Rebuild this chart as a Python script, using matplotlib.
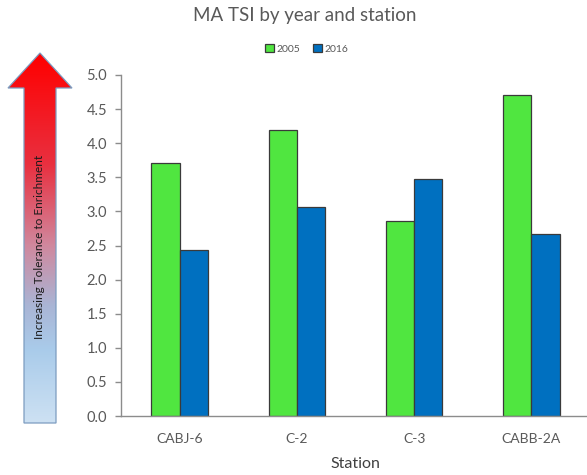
import numpy as np
import matplotlib
matplotlib.use('Agg')
import matplotlib.pyplot as plt
from matplotlib.colors import LinearSegmentedColormap
from matplotlib.patches import Polygon

plt.rcParams['font.family'] = ['Lato', 'DejaVu Sans']

# TSI values per station
stations = ['CABJ-6', 'C-2', 'C-3', 'CABB-2A']
tsi_2005 = [3.71, 4.19, 2.86, 4.71]
tsi_2016 = [2.43, 3.07, 3.48, 2.67]
years = ['2005', '2016']
yticks = [0.0, 0.5, 1.0, 1.5, 2.0, 2.5, 3.0, 3.5, 4.0, 4.5, 5.0]

W, H = 587, 475
fig = plt.figure(figsize=(W / 100, H / 100), dpi=100)

# main bar axes (pixel box: x 121..590, y 75..416)
ax = fig.add_axes([121 / W, 1 - 416 / H, (590 - 121) / W, (416 - 75) / H])
x = np.arange(len(stations))
bw = 0.24
ax.bar(x - bw / 2, tsi_2005, bw, color='#50E640', edgecolor='#3a3a3a', linewidth=0.9, label=years[0])
ax.bar(x + bw / 2, tsi_2016, bw, color='#0070C0', edgecolor='#3a3a3a', linewidth=0.9, label=years[1])

ax.set_xlim(-0.5, 3.5)
ax.set_ylim(0, 5.0)
ax.set_yticks(yticks)
ax.set_yticklabels([f'{v:.1f}' for v in yticks])
ax.set_xticks(x)
ax.set_xticklabels(stations)
for s in ['top', 'right']:
    ax.spines[s].set_visible(False)
for s in ['left', 'bottom']:
    ax.spines[s].set_color('#8c8c8c')
    ax.spines[s].set_linewidth(1.0)
ax.tick_params(axis='y', colors='#8c8c8c', labelcolor='#595959', labelsize=10.5, length=4, width=1, pad=6)
ax.tick_params(axis='x', length=0, labelcolor='#595959', labelsize=10, pad=12)
ax.set_xlabel('Station', fontsize=11.5, color='#404040', labelpad=9)

fig.text(305 / W, 1 - 16 / H, 'MA TSI by year and station', ha='center', va='center',
         fontsize=13.5, color='#595959')
leg = fig.legend(loc='center', bbox_to_anchor=(307 / W, 1 - 49 / H), ncol=2, frameon=False,
                 fontsize=7.5, handlelength=0.8, handleheight=0.8, handletextpad=0.3,
                 columnspacing=1.2)
for t in leg.get_texts():
    t.set_color('#595959')

# gradient arrow on the left
ax_arr = fig.add_axes([0, 0, 1, 1], zorder=-1)
ax_arr.set_xlim(0, W)
ax_arr.set_ylim(H, 0)
ax_arr.axis('off')
cmap = LinearSegmentedColormap.from_list('tol', [
    (0.0, '#FF0000'), (0.3, '#E93040'), (0.52, '#D0889E'),
    (0.68, '#AAB4D4'), (0.8, '#A9CBEA'), (1.0, '#CDE1F3')])
grad = np.linspace(0, 1, 256).reshape(-1, 1)
img = ax_arr.imshow(grad, cmap=cmap, aspect='auto', extent=[8, 72, 423, 53])
pts = [(40, 53), (72, 88), (56, 88), (56, 423), (24, 423), (24, 88), (8, 88)]
arrow = Polygon(pts, closed=True, facecolor='none', edgecolor='#7C9CC0', linewidth=0.9)
ax_arr.add_patch(arrow)
img.set_clip_path(arrow)
ax_arr.text(40, 247, 'Increasing Tolerance to Enrichment', rotation=90, ha='center', va='center',
            fontsize=8.5, color='#1a1a1a')

fig.savefig('out.png', dpi=100)
